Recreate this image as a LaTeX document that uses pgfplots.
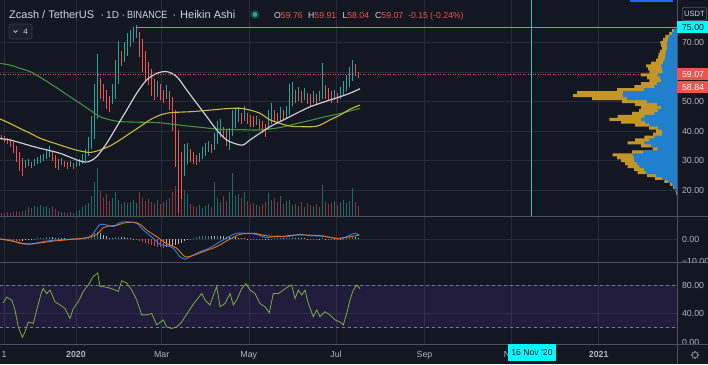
\documentclass[border=0pt]{standalone}
\usepackage{fontspec}
\setmainfont{Liberation Sans}
\usepackage{pgfplots}
\usepackage{pgfplotstable}
\pgfplotsset{compat=1.18}
\definecolor{bg}{RGB}{19,23,34}
\definecolor{gridc}{RGB}{40,44,56}
\definecolor{sepc}{RGB}{78,82,94}
\definecolor{txt}{RGB}{178,181,190}
\definecolor{htxt}{RGB}{209,212,220}
\definecolor{cUp}{RGB}{38,166,154}
\definecolor{cDn}{RGB}{239,83,80}
\definecolor{vUp}{RGB}{33,105,102}
\definecolor{vDn}{RGB}{135,52,58}
\definecolor{maw}{RGB}{205,205,210}
\definecolor{may}{RGB}{205,185,55}
\definecolor{mag}{RGB}{66,145,62}
\definecolor{macdb}{RGB}{45,125,235}
\definecolor{macdo}{RGB}{230,115,25}
\definecolor{rsig}{RGB}{120,175,60}
\definecolor{bandc}{RGB}{110,60,200}
\definecolor{cyanl}{RGB}{40,190,205}
\definecolor{cyanb}{RGB}{0,250,255}
\definecolor{vpb}{RGB}{33,128,205}
\definecolor{vpg}{RGB}{196,150,40}
\definecolor{hup}{RGB}{38,166,154}
\definecolor{hupl}{RGB}{178,223,219}
\definecolor{hdn}{RGB}{255,82,82}
\definecolor{hdnl}{RGB}{255,205,210}
\definecolor{dashc}{RGB}{120,123,134}
\definecolor{tvblue}{RGB}{41,98,255}
\definecolor{boxline}{RGB}{54,58,70}
\definecolor{boxfill}{RGB}{28,32,44}

\pgfplotstableread{
x o h l c v
25.5 28.9 30.2 27.5 29.2 6
28.5 29.0 30.5 28.2 29.6 9
34.5 28.9 30.5 28.3 29.5 10
37.5 29.2 31.2 28.8 30.3 9
40.5 29.8 31.8 29.3 30.8 11
43.5 30.3 32.2 29.8 31.4 9
46.5 30.9 34.0 30.5 32.8 10
49.5 31.8 34.8 31.3 33.6 8
61.5 29.4 30.8 28.6 29.8 4
70.5 28.7 29.9 28.0 29.0 4
76.5 28.4 29.8 27.8 28.9 5
79.5 28.7 30.7 28.3 29.8 6
82.5 29.2 32.3 28.8 31.6 9
85.5 30.4 34.0 30.0 33.2 11
88.5 31.8 38.0 31.5 36.5 13
91.5 34.2 45.0 33.8 42.0 20
94.5 38.1 56.0 37.5 51.0 34
97.5 45.0 66.0 44.0 62.0 48
112.5 49.5 56.0 49.0 55.0 18
115.5 52.0 64.0 51.0 62.0 24
118.5 57.0 70.5 56.0 67.0 16
124.5 64.5 70.0 63.5 68.0 14
127.5 66.0 73.0 65.5 71.5 13
130.5 69.0 74.0 68.5 72.5 14
133.5 70.5 75.0 70.0 73.5 16
136.5 72.0 76.0 71.5 74.0 13
157.5 54.0 57.0 51.5 55.5 16
166.5 52.0 55.5 51.0 54.5 16
184.5 29.0 35.5 25.0 33.0 26
187.5 31.0 36.0 29.0 34.5 22
199.5 30.5 32.5 29.5 31.5 11
202.5 31.0 34.5 30.5 33.5 8
205.5 32.3 36.0 31.5 35.0 10
208.5 33.6 36.5 33.0 35.5 12
214.5 34.0 39.5 33.5 38.5 34
217.5 36.3 43.5 35.5 41.5 18
220.5 39.0 44.0 38.0 42.5 14
229.5 38.5 41.0 33.5 39.5 24
232.5 39.0 47.0 38.5 44.0 43
235.5 41.5 47.5 41.0 45.5 20
238.5 43.5 48.0 43.0 45.5 22
244.5 44.2 48.5 43.5 46.0 24
256.5 43.0 45.0 42.0 44.0 11
268.5 41.3 47.0 40.5 45.0 23
271.5 43.0 49.5 42.5 47.0 16
280.5 44.4 48.0 43.5 46.5 20
286.5 45.2 48.5 44.5 47.0 15
289.5 46.0 56.0 45.5 52.5 16
292.5 49.0 56.5 48.5 54.0 11
298.5 51.2 55.0 50.0 53.5 10
304.5 51.7 54.5 50.5 52.8 9
313.5 50.7 53.5 49.5 52.0 10
319.5 50.8 53.5 50.0 52.5 9
322.5 51.6 63.0 51.0 58.0 31
334.5 52.1 54.0 50.5 52.8 15
340.5 51.6 55.0 51.0 53.5 14
343.5 52.5 57.0 52.0 55.5 16
346.5 54.0 59.0 53.5 57.5 13
349.5 55.7 61.5 55.0 59.5 15
352.5 57.6 64.0 57.0 62.0 28
}\candup

\pgfplotstableread{
x o h l c v
1.5 38.3 38.8 37.0 37.5 3
4.5 37.9 38.2 36.3 37.0 3
7.5 37.4 37.8 35.5 36.3 4
10.5 36.8 37.2 34.5 35.2 3
13.5 36.0 36.3 32.5 33.5 4
16.5 34.7 35.0 29.5 31.0 5
19.5 32.8 33.0 26.5 28.5 4
22.5 30.6 30.8 25.0 27.2 5
31.5 29.3 29.5 27.5 28.4 8
52.5 32.7 33.2 29.8 31.0 10
55.5 31.9 32.0 27.5 29.0 7
58.5 30.4 30.6 27.0 28.4 5
64.5 29.6 30.0 27.8 28.7 4
67.5 29.2 29.5 27.2 28.2 3
73.5 28.9 29.2 27.3 28.0 3
100.5 57.0 58.0 51.0 53.0 25
103.5 55.0 56.0 50.0 51.0 18
106.5 53.0 54.0 47.5 49.0 22
109.5 51.0 52.0 46.5 48.0 15
121.5 66.0 67.0 62.0 63.5 12
139.5 73.0 73.5 65.0 67.0 24
142.5 70.0 71.0 60.0 62.0 18
145.5 66.0 67.0 57.0 59.0 15
148.5 62.5 63.5 55.5 57.0 17
151.5 60.0 61.0 52.0 54.0 14
154.5 57.0 57.5 50.5 51.5 13
160.5 55.0 56.0 50.5 52.0 12
163.5 53.5 54.0 49.5 51.0 14
169.5 53.0 53.5 47.0 49.0 18
172.5 51.0 51.5 40.0 42.0 24
175.5 46.5 47.0 28.0 33.0 30
178.5 40.0 40.5 12.5 25.0 40
181.5 32.0 33.0 17.0 26.0 32
190.5 33.0 34.0 29.5 31.0 12
193.5 32.0 33.0 29.0 30.5 10
196.5 31.3 32.0 28.5 29.8 9
211.5 34.5 35.5 32.5 33.5 9
223.5 40.7 41.5 38.0 39.5 20
226.5 40.0 40.5 35.0 37.0 15
241.5 44.5 46.0 42.5 44.0 18
247.5 45.0 46.0 42.5 44.0 15
250.5 44.5 45.5 41.5 43.0 12
253.5 43.7 45.0 41.5 42.5 13
259.5 43.5 44.0 40.5 42.0 10
262.5 42.7 43.5 39.5 41.5 12
265.5 42.0 42.5 38.0 40.5 14
274.5 45.0 47.0 43.5 44.5 18
277.5 44.8 46.0 43.0 44.0 14
283.5 45.5 47.0 44.0 44.8 12
295.5 51.5 54.0 49.5 51.0 12
301.5 52.3 53.5 49.5 51.0 14
307.5 52.2 53.0 49.0 50.5 13
310.5 51.4 52.5 48.5 50.0 11
316.5 51.3 52.5 49.0 50.3 12
325.5 54.8 55.5 51.0 53.0 14
328.5 53.9 54.5 50.0 52.0 12
331.5 53.0 53.5 49.5 51.2 13
337.5 52.4 53.0 49.5 50.8 11
355.5 59.8 62.5 58.5 59.5 14
358.5 59.76 59.91 58.04 59.07 10
}\canddn

\pgfplotsset{
  pane/.style={scale only axis, width=677pt, xmin=0, xmax=677,
    axis line style={draw=none}, major tick length=0pt, tick style={draw=none},
    grid=major, major grid style={draw=gridc, line width=0.6pt},
    xtick={4,76,161.7,248.8,336,424.5,511.6,598.7},
    yticklabel pos=right,
    yticklabel style={font=\fontsize{8.8}{10}\selectfont, text=txt, xshift=1.5pt}},
  over/.style={scale only axis, width=677pt, xmin=0, xmax=677, hide axis}
}

\begin{document}
\begin{tikzpicture}[x=1pt,y=1pt]
\fill[bg] (0,0) rectangle (708,364);
\useasboundingbox (0,0) rectangle (708,364);

% main pane grid
\begin{axis}[pane, at={(0pt,147.5pt)}, anchor=south west, height=216.5pt,
  ymin=11.15, ymax=84.29, xticklabels={},
  ytick={20,30,40,50,60,70}, yticklabels={20.00,30.00,40.00,50.00,,70.00}]
\addplot[draw=none] coordinates {(0,20)};
\end{axis}

% volume
\begin{axis}[over, at={(0pt,147.5pt)}, anchor=south west, height=216.5pt, ymin=0, ymax=216.5]
\addplot[ycomb, draw=vUp, line width=1.5pt, mark=none] table[x=x,y=v] {\candup};
\addplot[ycomb, draw=vDn, line width=1.5pt, mark=none] table[x=x,y=v] {\canddn};
\end{axis}

% price
\begin{axis}[over, at={(0pt,147.5pt)}, anchor=south west, height=216.5pt, ymin=11.15, ymax=84.29]
\addplot[cyanl, line width=0.8pt] coordinates {(531,11.15) (531,84.29)};
% wicks
\addplot[draw=none, mark=none, error bars/.cd, y dir=minus, y explicit, error mark=none,
  error bar style={draw=cUp, line width=0.55pt}]
  table[x=x, y=h, y error minus expr=\thisrow{h}-\thisrow{l}] {\candup};
\addplot[draw=none, mark=none, error bars/.cd, y dir=minus, y explicit, error mark=none,
  error bar style={draw=cDn, line width=0.55pt}]
  table[x=x, y=h, y error minus expr=\thisrow{h}-\thisrow{l}] {\canddn};
% bodies
\addplot[draw=none, mark=none, error bars/.cd, y dir=minus, y explicit, error mark=none,
  error bar style={draw=cUp, line width=1.6pt}]
  table[x=x, y=c, y error minus expr=\thisrow{c}-\thisrow{o}] {\candup};
\addplot[draw=none, mark=none, error bars/.cd, y dir=minus, y explicit, error mark=none,
  error bar style={draw=cDn, line width=1.6pt}]
  table[x=x, y=o, y error minus expr=\thisrow{o}-\thisrow{c}] {\canddn};
% moving averages
\addplot[mag, line width=1.1pt, smooth] coordinates {(0,62.9) (10,62.3) (20,61.2) (30,60.1) (40,58.2) (50,56.1) (60,53.9) (70,51.6) (80,49.4) (90,47.1) (100,44.9) (110,43.8) (120,43.2) (140,43) (160,42.8) (180,42) (200,41.3) (220,40.6) (240,40.5) (260,40.4) (280,41.2) (297,42.6) (310,43.6) (323,44.7) (340,45.9) (350,46.8) (360,47.7)};
\addplot[may, line width=1.1pt, smooth] coordinates {(0,44.1) (10,42.6) (20,40.9) (30,39.3) (40,37.6) (50,36.4) (60,35.3) (70,34.2) (80,33.3) (90,32.8) (100,33.6) (110,35) (120,37) (130,39.3) (140,41.5) (150,43.8) (160,45.4) (170,46.2) (180,46.4) (193,46.6) (210,47.1) (227,47.6) (240,47.7) (250,47.1) (260,46) (270,43.8) (280,42.6) (290,41.7) (300,41.5) (313,41.5) (320,42) (330,43.8) (340,45.4) (350,47.4) (360,48.8)};
\addplot[maw, line width=1.2pt, smooth] coordinates {(0,37.5) (10,37) (20,36.1) (30,35.1) (40,34.2) (50,33.4) (60,32.5) (70,31.2) (80,29.9) (88,29.6) (96.7,31.4) (106.7,35.9) (116.7,41.5) (126.7,47.1) (136.7,52.8) (146.7,57.3) (156.7,59.5) (166.7,60.1) (176.7,58.4) (186.7,53.9) (196.7,49.4) (206.7,44.9) (216.7,40.4) (226.7,37) (236.7,35.6) (243,35.3) (250,37) (260,39.3) (270,41.5) (280,43.2) (290,44.9) (300,46.6) (310,48.2) (320,49.4) (330,50.5) (340,51.6) (350,52.8) (360,54.3)};
\addplot[cDn, line width=0.7pt, dash pattern=on 1pt off 1.5pt] coordinates {(0,59.07) (677,59.07)};
\addplot[cyanl, line width=0.8pt] coordinates {(136,75) (677,75)};
\end{axis}

% volume profile
\begin{axis}[over, at={(0pt,147.5pt)}, anchor=south west, height=216.5pt, ymin=11.15, ymax=84.29, x dir=reverse]
\addplot[xbar, bar shift=0pt, bar width=1.02, fill=vpg, draw=none] coordinates {
(5,74) (8,73) (11.7,72) (14,71) (16.7,70) (16,69) (15,68) (17,67) (18.3,66) (19,65) (21,64) (26,63) (31,62) (29,61) (27.7,60) (36,59) (30,58) (27.7,57) (36,56) (42.7,55) (60,54) (100,53) (104,52) (85,51) (55,50) (42,49) (36,48) (38,47) (45,46) (59.3,45) (67.7,44) (56,43) (42,42) (28,41) (21,40) (24,39) (32.7,38) (42,37) (49.3,36) (36,35) (24.3,34) (45,33) (64.3,32) (60,31) (56,30) (52,29) (49.3,28) (43,27) (39.3,26) (30,25) (22,24) (12.7,23) (7,22) (4,21) (1.5,20) (0.8,19)};
\addplot[xbar, bar shift=0pt, bar width=1.02, fill=vpb, draw=none] coordinates {
(3,74) (5,73) (8.3,72) (9,71) (10,70) (10,69) (10,68) (11,67) (11.7,66) (12,65) (12.7,64) (14,63) (16,62) (15,61) (14.3,60) (19.3,59) (17,58) (16,57) (20,56) (22.7,55) (33,54) (54,53) (54.3,52) (50,51) (30,50) (20,49) (16,48) (19,47) (22.7,46) (32.7,45) (36,44) (32,43) (27.7,42) (19,41) (15,40) (15,39) (22.7,38) (28,37) (32.7,36) (26,35) (19.3,34) (34,33) (44.3,32) (43,31) (42.7,30) (40,29) (37.7,28) (33,27) (31,26) (21,25) (15,24) (9.3,23) (5,22) (3,21) (1,20) (0.5,19)};
\end{axis}

% MACD pane
\begin{axis}[pane, at={(0pt,101.5pt)}, anchor=south west, height=46pt,
  ymin=-10.2, ymax=9.78, xticklabels={}, ytick={0}, yticklabels={0.00}]
\addplot[ycomb, draw=hup, line width=1.4pt, mark=none, opacity=0.8] coordinates {(34.5,0.2) (37.5,0.3) (40.5,0.5) (43.5,0.6) (46.5,0.7) (49.5,0.8) (73.5,0.3) (76.5,0.3) (79.5,0.4) (82.5,0.5) (85.5,0.6) (88.5,1.0) (91.5,1.6) (94.5,2.4) (97.5,3.0) (115.5,0.7) (118.5,1.0) (190.5,0.2) (193.5,0.6) (196.5,0.9) (199.5,1.1) (202.5,1.3) (205.5,1.4) (208.5,1.5) (217.5,1.5) (232.5,1.0) (271.5,0.2) (274.5,0.3) (277.5,0.3) (280.5,0.4) (286.5,0.4) (289.5,0.6) (292.5,0.7) (322.5,0.3) (343.5,0.2) (346.5,0.5) (349.5,0.7) (352.5,0.9)};
\addplot[ycomb, draw=hupl, line width=1.4pt, mark=none, opacity=0.8] coordinates {(52.5,0.7) (55.5,0.5) (58.5,0.4) (61.5,0.4) (64.5,0.3) (67.5,0.2) (70.5,0.2) (100.5,2.6) (103.5,1.9) (106.5,1.2) (109.5,0.6) (112.5,0.4) (121.5,0.9) (124.5,0.8) (127.5,0.6) (130.5,0.4) (133.5,0.1) (211.5,1.4) (214.5,1.4) (220.5,1.4) (223.5,1.2) (226.5,1.0) (229.5,0.9) (235.5,0.8) (238.5,0.6) (241.5,0.4) (244.5,0.3) (247.5,0.1) (283.5,0.3) (295.5,0.5) (298.5,0.4) (301.5,0.3) (304.5,0.3) (307.5,0.1) (325.5,0.2) (355.5,0.8) (358.5,0.6)};
\addplot[ycomb, draw=hdn, line width=1.4pt, mark=none, opacity=0.8] coordinates {(1.5,-0.2) (4.5,-0.3) (7.5,-0.5) (10.5,-0.6) (13.5,-0.7) (16.5,-0.8) (19.5,-0.8) (136.5,-0.3) (139.5,-0.8) (142.5,-1.3) (145.5,-1.8) (148.5,-2.3) (151.5,-2.8) (154.5,-3.2) (157.5,-3.5) (160.5,-3.6) (163.5,-3.7) (250.5,-0.1) (253.5,-0.2) (256.5,-0.3) (259.5,-0.4) (262.5,-0.4) (310.5,-0.1) (313.5,-0.1) (316.5,-0.2) (328.5,-0.1) (331.5,-0.3) (334.5,-0.4) (337.5,-0.4)};
\addplot[ycomb, draw=hdnl, line width=1.4pt, mark=none, opacity=0.8] coordinates {(22.5,-0.7) (25.5,-0.5) (28.5,-0.3) (31.5,-0.1) (166.5,-3.6) (169.5,-3.3) (172.5,-3.0) (175.5,-2.6) (178.5,-2.2) (181.5,-1.6) (184.5,-1.0) (187.5,-0.4) (265.5,-0.3) (268.5,-0.1) (319.5,-0.1) (340.5,-0.2)};
\addplot[macdb, line width=0.9pt, smooth] coordinates {(0,0) (10,-0.4) (20,-1.9) (30,-2.3) (40,-1.4) (50,-0.7) (66.7,-0.1) (80,0) (90,1) (96.7,4.6) (100,6.4) (106.7,6.1) (113.3,5.4) (120,7.2) (126.7,7.5) (136.7,6.8) (143.3,3.9) (153.3,0.3) (160,-2.3) (166.7,-2.9) (173.3,-4) (180,-7.7) (185,-8.7) (190,-7.7) (200,-5.5) (210,-3.8) (220,-1.2) (230,1.3) (236.7,2.5) (246.7,2.5) (256.7,2) (266.7,0.6) (276.7,1.3) (286.7,1) (300,2) (310,1.4) (320,1.3) (330,0.7) (340,0) (350,1.7) (355,2.5) (359.3,1.7)};
\addplot[macdo, line width=0.9pt, smooth] coordinates {(0,0) (13.3,-1) (26.7,-2.1) (40,-1.7) (53.3,-0.9) (73.3,-0.1) (86.7,0.6) (96.7,2) (103.3,4.9) (110,5.7) (116.7,5.9) (123.3,6.9) (133.3,7.3) (140,6.4) (146.7,3.9) (156.7,1) (166.7,-2) (176.7,-4) (185,-7.7) (191.7,-7.3) (203.3,-5.5) (216.7,-3.3) (230,0) (240,2) (253.3,2.5) (266.7,1.4) (280,1) (293.3,1.7) (310,1.7) (323.3,1.3) (336.7,0.3) (350,1) (359.3,1.7)};
\end{axis}

% RSI pane
\begin{axis}[pane, at={(0pt,20pt)}, anchor=south west, height=81.5pt,
  ymin=-2.95, ymax=111.7, ytick={40,80}, yticklabels={40.00,80.00},
  xticklabels={1,\textbf{2020},Mar,May,Jul,Sep,Nov,\textbf{2021}},
  xticklabel style={font=\fontsize{8.8}{10}\selectfont, text=txt, yshift=-3.5pt}]
\fill[bandc, fill opacity=0.16] (axis cs:0,20) rectangle (axis cs:677,80);
\addplot[dashc, line width=0.6pt, dash pattern=on 3pt off 3pt] coordinates {(0,80) (677,80)};
\addplot[dashc, line width=0.6pt, dash pattern=on 3pt off 3pt] coordinates {(0,20) (677,20)};
\addplot[rsig, line width=0.8pt] coordinates {(3.3,55) (6.7,63) (11.7,59) (15,45) (18.3,21) (22.3,6.5) (25,14) (28.3,28) (33.3,26) (36.7,45) (41.7,71) (43.3,75) (46.7,68) (50,73) (55,56.5) (60,52) (65,47) (70,33) (73.3,47) (78.3,56.5) (83.3,71) (88.3,80) (93.3,92) (97.7,97) (100,78) (106.7,77) (113.3,74) (118.3,71) (121.7,86) (126.7,83) (131.7,73) (136.7,59) (141.7,38) (146.7,38) (151.7,40) (156.7,24) (163.3,31) (166.7,21) (171.7,19) (176.7,21) (181.7,28) (188.3,42.5) (195,56.5) (201.7,68) (205,59) (210,52) (216.7,78) (220,49.5) (225,54) (230,68) (233.3,52) (236.7,59) (241.7,75) (246,82) (250,73) (255,68) (260,54) (265,49.5) (269.3,41) (273.3,68) (278.3,68) (283.3,73) (288.3,78) (291.7,80) (295,61) (298.3,73) (301.7,66) (305,73) (308.3,54) (313.3,35.5) (316.7,45) (320,35.5) (325,42.5) (330,38) (335,31) (340,28) (343.3,24) (346.7,40) (350,59) (353.3,73) (356.7,80) (360,75)};
\end{axis}

% separators and scale divider
\draw[sepc, line width=0.9pt] (0,147.5) -- (708,147.5);
\draw[sepc, line width=0.9pt] (0,101.5) -- (708,101.5);
\draw[sepc, line width=0.9pt] (0,20) -- (708,20);
\draw[sepc, line width=0.9pt] (677,0) -- (677,364);

% clipped scale labels
\begin{scope}
\clip (677.5,101.9) rectangle (708,147);
\node[anchor=west, font=\fontsize{8.8}{10}\selectfont, text=txt] at (678.5,102.3) {−10.00};
\end{scope}
\begin{scope}
\clip (677.5,20.4) rectangle (708,101);
\node[anchor=west, font=\fontsize{8.8}{10}\selectfont, text=txt] at (678.5,21.5) {0.00};
\end{scope}

% price boxes
\fill[cyanb] (677,330.7) rectangle (708,343.3);
\node[anchor=west, font=\fontsize{8.8}{10}\selectfont, text=bg] at (678.5,337) {75.00};
\fill[cDn] (677,283.6) rectangle (708,296);
\node[anchor=west, font=\fontsize{8.8}{10}\selectfont, text=white] at (678.5,289.8) {59.07};
\fill[cDn] (677,270.5) rectangle (708,282.6);
\node[anchor=west, font=\fontsize{8.8}{10}\selectfont, text=white] at (678.5,276.5) {58.84};
\draw[sepc, rounded corners=1.5pt, fill=bg, line width=0.6pt] (682.3,343.5) rectangle (706.5,356.7);
\node[font=\fontsize{7.6}{9}\selectfont, text=htxt] at (694.4,350.1) {USDT};
\fill[tvblue] (630,362.3) rectangle (673,364);

% time label box
\fill[cyanb] (508.3,3.3) rectangle (555.7,20);
\node[font=\fontsize{8.6}{10}\selectfont, text=bg] at (532,11.6) {16 Nov '20};
% gear
\draw[dashc, line width=0.7pt] (695,9) circle (2.6);
\foreach \a in {0,45,...,315} \draw[dashc, line width=1.1pt] (695,9) ++(\a:2.6) -- ++(\a:1.4);

% header
\node[anchor=base west, inner sep=0, text=htxt, font=\fontsize{11}{12}\selectfont] at (9,345.5) {Zcash / TetherUS};
\node[anchor=base west, inner sep=0, text=htxt, font=\fontsize{10.5}{12}\selectfont] at (100.5,345.5) {·};
\node[anchor=base west, inner sep=0, text=htxt, font=\fontsize{10}{12}\selectfont] at (106,345.5) {1D};
\node[anchor=base west, inner sep=0, text=htxt, font=\fontsize{10.5}{12}\selectfont] at (121.5,345.5) {·};
\node[anchor=base west, inner sep=0, text=htxt, font=\fontsize{10.5}{12}\selectfont] at (127,345.5) {\scalebox{0.86}[1]{BINANCE}};
\node[anchor=base west, inner sep=0, text=htxt, font=\fontsize{10.5}{12}\selectfont] at (172.5,345.5) {·};
\node[anchor=base west, inner sep=0, text=htxt, font=\fontsize{11}{12}\selectfont] at (180,345.5) {Heikin Ashi};
\fill[cUp, opacity=0.3] (255,349.5) circle (4.5);
\fill[cUp] (255,349.5) circle (2.4);
\node[anchor=base west, inner sep=0, font=\fontsize{8.7}{10}\selectfont] at (274,345.5) {\textcolor{htxt}{O}\textcolor{cDn}{59.76}};
\node[anchor=base west, inner sep=0, font=\fontsize{8.7}{10}\selectfont] at (308,345.5) {\textcolor{htxt}{H}\textcolor{cDn}{59.91}};
\node[anchor=base west, inner sep=0, font=\fontsize{8.7}{10}\selectfont] at (342.3,345.5) {\textcolor{htxt}{L}\textcolor{cDn}{58.04}};
\node[anchor=base west, inner sep=0, font=\fontsize{8.7}{10}\selectfont] at (375,345.5) {\textcolor{htxt}{C}\textcolor{cDn}{59.07}};
\node[anchor=base west, inner sep=0, font=\fontsize{8.7}{10}\selectfont, text=cDn] at (408,345.5) {-0.15};
\node[anchor=base west, inner sep=0, font=\fontsize{8.7}{10}\selectfont, text=cDn] at (430,345.5) {(-0.24\%)};
% interval box
\draw[boxline, fill=boxfill, rounded corners=2pt, line width=0.6pt] (9,325) rectangle (32,340);
\draw[htxt, line width=0.7pt] (13.5,333.6) -- (15.5,331.6) -- (17.5,333.6);
\node[font=\fontsize{8}{9}\selectfont, text=htxt] at (25.5,332.5) {4};
\end{tikzpicture}
\end{document}
